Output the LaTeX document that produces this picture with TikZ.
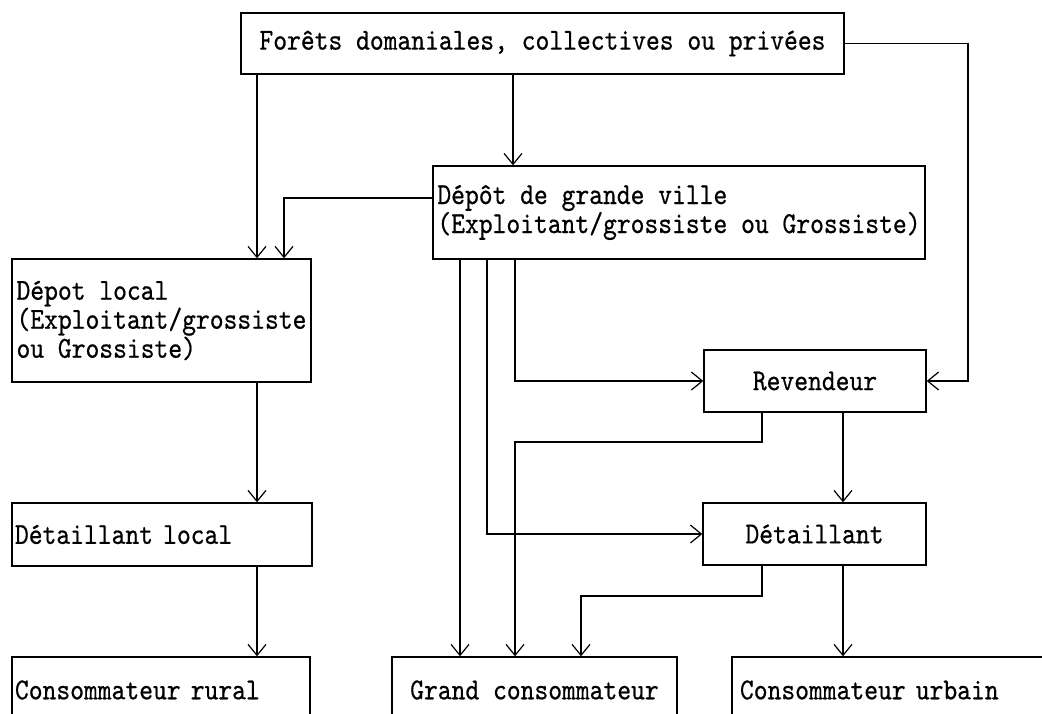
\documentclass[tikz,border=0pt]{standalone}
\usepackage{fontspec}
\newfontfamily\boxfont[FakeStretch=0.865,FakeBold=0.6]{lmmono10-regular.otf}
\usetikzlibrary{arrows.meta}
\begin{document}
\begin{tikzpicture}[x=1pt,y=-1pt,
  box/.style={draw,line width=1.4pt,inner sep=0pt,
    font=\boxfont\fontsize{30.4}{29}\selectfont},
  lbox/.style={box,align=left,inner xsep=3pt},
  flow/.style={line width=1.4pt,
    -{Straight Barb[length=11pt,width=18pt,line width=1.2pt]}}]
\clip (0,0) rectangle (1042,713);

% boxes
\node[box,minimum width=603pt,minimum height=61pt] (forets) at (542.5,43.5)
  {Forêts domaniales, collectives ou privées};
\node[box,align=left,minimum width=492pt,minimum height=93pt] (depot) at (679,212.5)
  {Dépôt de grande ville\\(Exploitant/grossiste ou Grossiste)};
\node[box,align=left,minimum width=299pt,minimum height=123pt] (local) at (161.5,320.5)
  {Dépot local\\(Exploitant/grossiste\\ou Grossiste)};
\node[box,minimum width=222pt,minimum height=62pt] (rev) at (815,381) {Revendeur};
\node[lbox,text width=294pt,minimum height=63pt] (detl) at (162,534.5) {Détaillant local};
\node[box,minimum width=223pt,minimum height=62pt] (det) at (814.5,534) {Détaillant};
\node[lbox,text width=292pt,minimum height=66pt] (rural) at (161,690) {Consommateur rural};
\node[box,minimum width=285pt,minimum height=66pt] (grand) at (534.5,690) {Grand consommateur};
\node[lbox,inner xsep=8pt,text width=312pt,minimum height=66pt] (urbain) at (896,690) {Consommateur urbain};

% flows
\draw[flow] (257,0 |- forets.south) -- (257,0 |- local.north);
\draw[flow] (513,0 |- forets.south) -- (513,0 |- depot.north);
\draw[flow] (depot.west |- 0,198) -| (284,0 |- local.north);
\draw[flow] (forets.east) -| (968,0 |- rev.east) -- (rev.east);
\draw[flow] (515,0 |- depot.south) |- (rev.west);
\draw[flow] (487,0 |- depot.south) |- (det.west);
\draw[flow] (460,0 |- depot.south) -- (460,0 |- grand.north);
\draw[flow] (762,0 |- rev.south) -- (762,442) -| (515,0 |- grand.north);
\draw[flow] (843,0 |- rev.south) -- (843,0 |- det.north);
\draw[flow] (762,0 |- det.south) -- (762,596) -| (581,0 |- grand.north);
\draw[flow] (843,0 |- det.south) -- (843,0 |- urbain.north);
\draw[flow] (257,0 |- local.south) -- (257,0 |- detl.north);
\draw[flow] (257,0 |- detl.south) -- (257,0 |- rural.north);
\end{tikzpicture}
\end{document}
